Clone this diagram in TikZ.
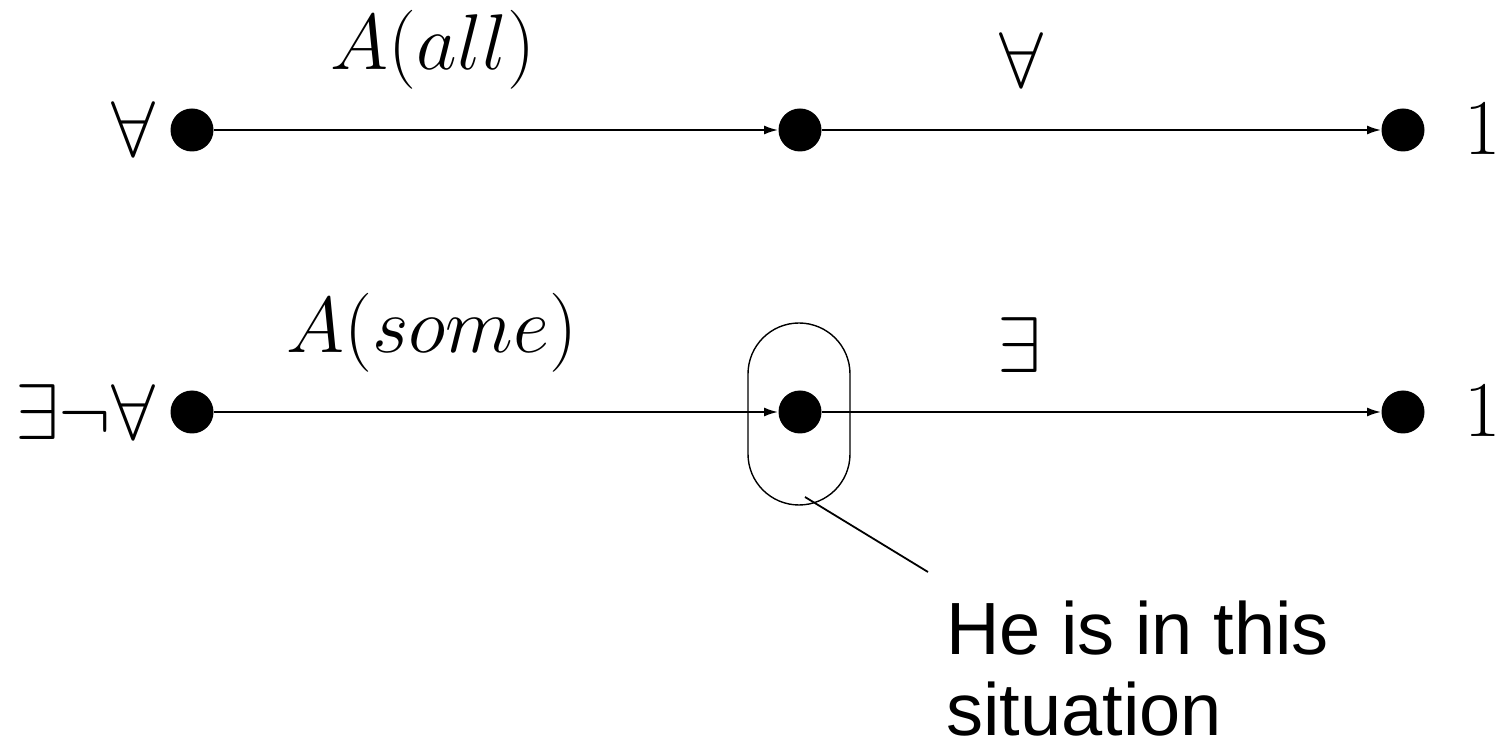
\RequirePackage{fix-cm}
\documentclass[tikz,border=0pt]{standalone}
\usepackage{fontspec}
\newfontfamily\arialfont{Liberation Sans}
\usetikzlibrary{arrows.meta}
\tikzset{
  dot/.style={circle,fill=black,inner sep=0pt,minimum size=21.5pt},
  mlabel/.style={inner sep=0pt,font=\fontsize{39.5}{45}\selectfont},
  edge/.style={line width=1pt,-{Latex[length=7pt,width=4.5pt]}},
  situation/.style={draw,line width=0.7pt,rounded corners=25.5pt,minimum width=51pt,minimum height=91pt,inner sep=0pt},
}
\begin{document}
\begin{tikzpicture}[x=0.5pt,y=-0.5pt]
\useasboundingbox (0,0) rectangle (1505,748);
% dots
\node[dot] (a1) at (192,130) {};
\node[dot] (a2) at (800,130) {};
\node[dot] (a3) at (1403,130) {};
\node[dot] (b1) at (192,412) {};
\node[dot] (b2) at (800,412) {};
\node[dot] (b3) at (1403,412) {};
% edges
\draw[edge] (a1) -- (a2);
\draw[edge] (a2) -- (a3);
\draw[edge] (b1) -- (b2);
\draw[edge] (b2) -- (b3);
% end labels
\node[mlabel,anchor=base east] (la1) at (156,157) {$\forall$};
\node[mlabel,anchor=base east] (lb1) at (156,440) {$\exists\neg\forall$};
\node[mlabel,anchor=base west] (la3) at (1464,155) {$1$};
\node[mlabel,anchor=base west] (lb3) at (1464,437) {$1$};
% edge labels
\node[mlabel,anchor=base] (ea1) at (433,70) {$A(all)$};
\node[mlabel,anchor=base] (ea2) at (1021,88) {$\forall$};
\node[mlabel,anchor=base] (eb1) at (432,353) {$A(some)$};
\node[mlabel,anchor=base] (eb2) at (1019,373) {$\exists$};
% situation box
\node[situation] (sit) at (799,414) {};
\coordinate (pstart) at (805,497);
\coordinate (pend) at (928,572);
\draw[line width=0.9pt] (pstart) -- (pend);
\node[inner sep=0pt,anchor=base west,align=left,font=\arialfont\fontsize{37}{40.5}\selectfont] (txt) at (946,735) {He is in this\\situation};
\end{tikzpicture}
\end{document}
